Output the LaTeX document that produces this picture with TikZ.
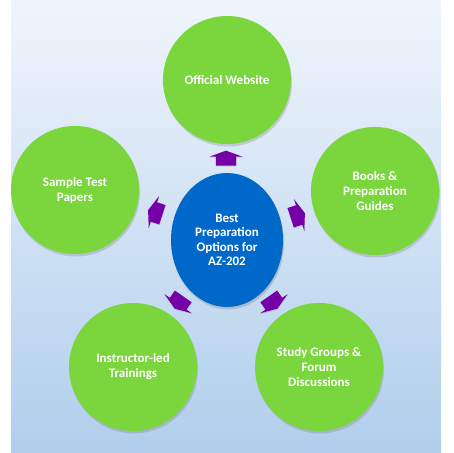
\documentclass[tikz,border=0pt]{standalone}
\usepackage{fontspec}
\setmainfont{Carlito}
\usepackage{tikz}
\usetikzlibrary{shapes.arrows,shapes.geometric,shadows,positioning}
\definecolor{bgtop}{RGB}{240,245,252}
\definecolor{bgbot}{RGB}{176,206,236}
\definecolor{optgreen}{RGB}{122,214,60}
\definecolor{hubblue}{RGB}{0,104,200}
\definecolor{arrpurple}{RGB}{118,0,168}

\begin{document}
\begin{tikzpicture}[x=1pt,y=1pt,
    option/.style={circle,fill=optgreen,minimum size=128pt,inner sep=0pt,
                   text=white,font=\fontsize{13}{15}\selectfont\bfseries,
                   align=center,
                   drop shadow={opacity=0.3,shadow xshift=1pt,shadow yshift=-2.5pt}},
    hubnode/.style={ellipse,fill=hubblue,minimum width=112pt,minimum height=134pt,
                    inner sep=0pt,text=white,
                    font=\fontsize{13}{14.5}\selectfont\bfseries,align=center,
                    drop shadow={opacity=0.35,shadow xshift=1pt,shadow yshift=-2.5pt}},
    blk/.style={single arrow,fill=arrpurple,draw=none,inner sep=0pt,
                text height=20pt,text depth=0pt,
                minimum height=15pt,minimum width=33pt,
                single arrow head extend=6.5pt,single arrow tip angle=140,
                drop shadow={opacity=0.25,shadow xshift=0.5pt,shadow yshift=-1pt}},
  ]
    \useasboundingbox (0,0) rectangle (453,453);
    \shade[top color=bgtop,bottom color=bgbot] (11,0) rectangle (441,453);
    \node[hubnode](hub) at (227,213){Best\\Preparation\\Options for\\AZ-202};
    \node[option](web) at (227,373){Official Website};
    \node[option](papers) at (75,263){Sample Test\\Papers};
    \node[option](books) at (375,262){Books \&\\Preparation\\Guides};
    \node[option](train) at (133,86){Instructor-led\\Trainings};
    \node[option](study) at (319,86){Study Groups \&\\Forum\\Discussions};
    % block arrows from the hub out to each option
    \node[blk,rotate=90](aweb) at (226,293){};
    \node[blk,rotate=162](apapers) at (157,240){};
    \node[blk,rotate=18](abooks) at (296,237){};
    \node[blk,rotate=235](atrain) at (180,152){};
    \node[blk,rotate=305](astudy) at (272,152){};
  \end{tikzpicture}
\end{document}
